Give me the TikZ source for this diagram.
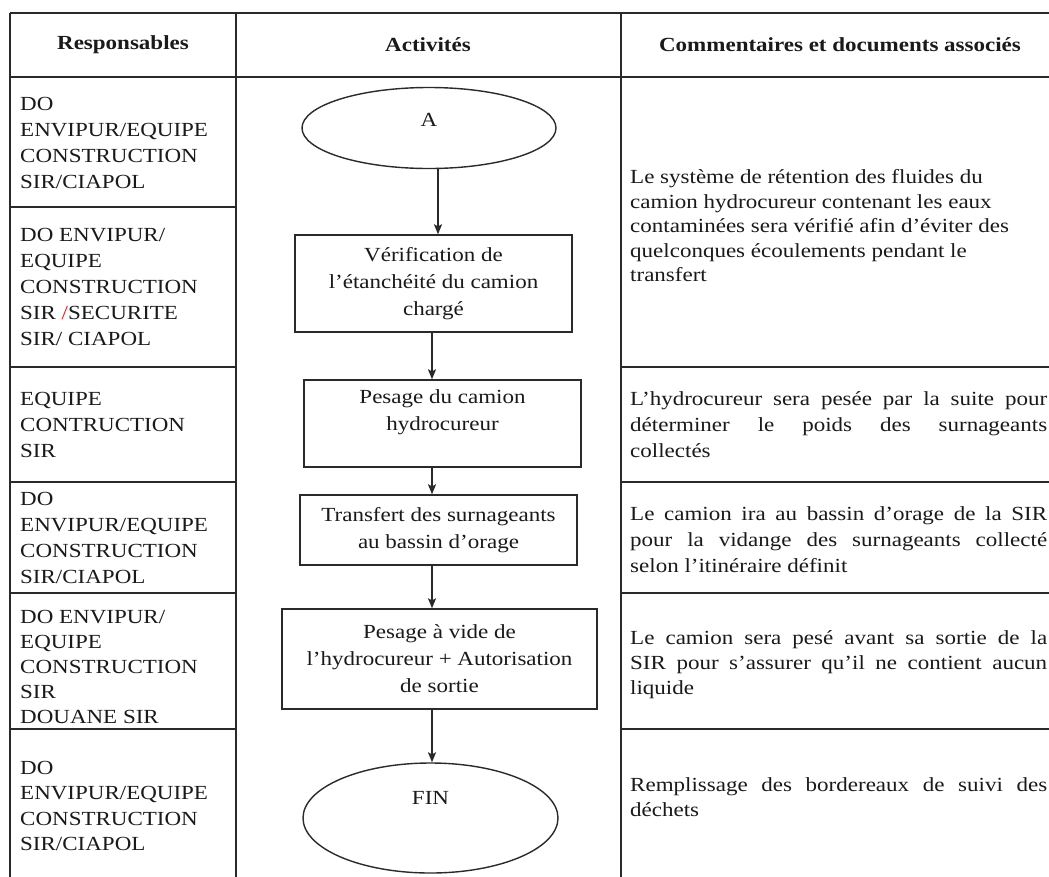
\documentclass[tikz,border=0pt]{standalone}
\usepackage{fontspec}
\setmainfont[FakeStretch=1.15]{Liberation Serif}
\usetikzlibrary{shapes.geometric,arrows.meta}
\definecolor{ink}{HTML}{1A1A1A}
\definecolor{rule}{HTML}{2A2A2A}
\definecolor{redmark}{HTML}{E02020}
\begin{document}
\begin{tikzpicture}[x=1pt,y=-1pt,
  every node/.style={text=ink, font=\fontsize{20}{26}\selectfont},
  tbl/.style={draw=rule, line width=2pt},
  hdr/.style={font=\fontsize{20}{26}\selectfont\bfseries, anchor=center, inner sep=0},
  resp/.style={anchor=west, align=left, inner sep=0},
  comm/.style={anchor=west, align=justify, text width=417pt, inner sep=0},
  fbox/.style={draw=rule, line width=1.4pt, rectangle, align=center, inner sep=0, font=\fontsize{20}{27}\selectfont},
  fell/.style={draw=rule, line width=1.4pt, ellipse, inner sep=0},
  arr/.style={draw=rule, line width=1.4pt, -{Stealth[length=10pt,width=8pt,inset=2pt]}}
]
\useasboundingbox (0,0) rectangle (1049,876);
\fill[white] (0,0) rectangle (1049,876);
\clip (0,0) rectangle (1049,876);

% table rules
\draw[tbl] (10,13) -- (1065,13);
\draw[tbl] (10,77) -- (1065,77);
\draw[tbl] (10,13) -- (10,890);
\draw[tbl] (236,13) -- (236,890);
\draw[tbl] (621,13) -- (621,890);
\foreach \yy in {207,367,482,593,729} \draw[tbl] (10,\yy) -- (236,\yy);
\foreach \yy in {367,482,593,729} \draw[tbl] (621,\yy) -- (1065,\yy);

% headers
\node[hdr] (h1) at (123,45) {Responsables};
\node[hdr] (h2) at (428,45) {Activités};
\node[hdr] (h3) at (840,45) {Commentaires et documents associés};

% responsables
\node[resp] (r1) at (20,143) {DO\\ENVIPUR/EQUIPE\\CONSTRUCTION\\SIR/CIAPOL};
\node[resp] (r2) at (20,287) {DO ENVIPUR/\\EQUIPE\\CONSTRUCTION\\SIR {\color{redmark}/}SECURITE\\SIR/ CIAPOL};
\node[resp] (r3) at (20,425) {EQUIPE\\CONTRUCTION\\SIR};
\node[resp] (r4) at (20,538) {DO\\ENVIPUR/EQUIPE\\CONSTRUCTION\\SIR/CIAPOL};
\node[resp, font=\fontsize{20}{25}\selectfont] (r5) at (20,667) {DO ENVIPUR/\\EQUIPE\\CONSTRUCTION\\SIR\\DOUANE SIR};
\node[resp, font=\fontsize{20}{25.3}\selectfont] (r6) at (20,806) {DO\\ENVIPUR/EQUIPE\\CONSTRUCTION\\SIR/CIAPOL};

% flowchart
\node[fell, minimum width=254pt, minimum height=81pt,
      label={[text=ink, yshift=8pt]center:A}] (A) at (429,128) {};
\node[fbox, minimum width=277pt, minimum height=97pt] (b1) at (433.5,283.5)
  {Vérification de\\l'étanchéité du camion\\chargé};
\node[fbox, minimum width=277pt, minimum height=87pt] (b2) at (442.5,423.5)
  {Pesage du camion\\hydrocureur\\[0pt]};
\node[fbox, minimum width=277pt, minimum height=70pt] (b3) at (438.5,530)
  {Transfert des surnageants\\au bassin d'orage};
\node[fbox, minimum width=315pt, minimum height=100pt] (b4) at (439.5,659)
  {Pesage à vide de\\l'hydrocureur + Autorisation\\de sortie};
\node[fell, minimum width=255pt, minimum height=110pt,
      label={[text=ink, yshift=20pt]center:FIN}] (FIN) at (430.5,818) {};

\coordinate (ax) at (432,0);
\draw[arr] ([xshift=9pt]A.south) -- ([xshift=9pt]A.south |- b1.north);
\draw[arr] (b1.south -| ax) -- (b2.north -| ax);
\draw[arr] (b2.south -| ax) -- (b3.north -| ax);
\draw[arr] (b3.south -| ax) -- (b4.north -| ax);
\draw[arr] (b4.south -| ax) -- (FIN.north -| ax);

% commentaires
\node[resp, font=\fontsize{20}{24.5}\selectfont] (c1) at (630,226)
  {Le système de rétention des fluides du\\camion hydrocureur contenant les eaux\\contaminées sera vérifié afin d'éviter des\\quelconques écoulements pendant le\\transfert};
\node[comm] (c2) at (630,425)
  {L'hydrocureur sera pesée par la suite pour\linebreak déterminer le poids des surnageants\linebreak collectés};
\node[comm] (c3) at (630,539.5)
  {Le camion ira au bassin d'orage de la SIR\linebreak pour la vidange des surnageants collecté\linebreak selon l'itinéraire définit};
\node[comm, font=\fontsize{20}{25}\selectfont] (c4) at (630,665)
  {Le camion sera pesé avant sa sortie de la\linebreak SIR pour s'assurer qu'il ne contient aucun\linebreak liquide};
\node[comm, font=\fontsize{20}{25}\selectfont] (c5) at (630,797.5)
  {Remplissage des bordereaux de suivi des\linebreak déchets};
\end{tikzpicture}
\end{document}
